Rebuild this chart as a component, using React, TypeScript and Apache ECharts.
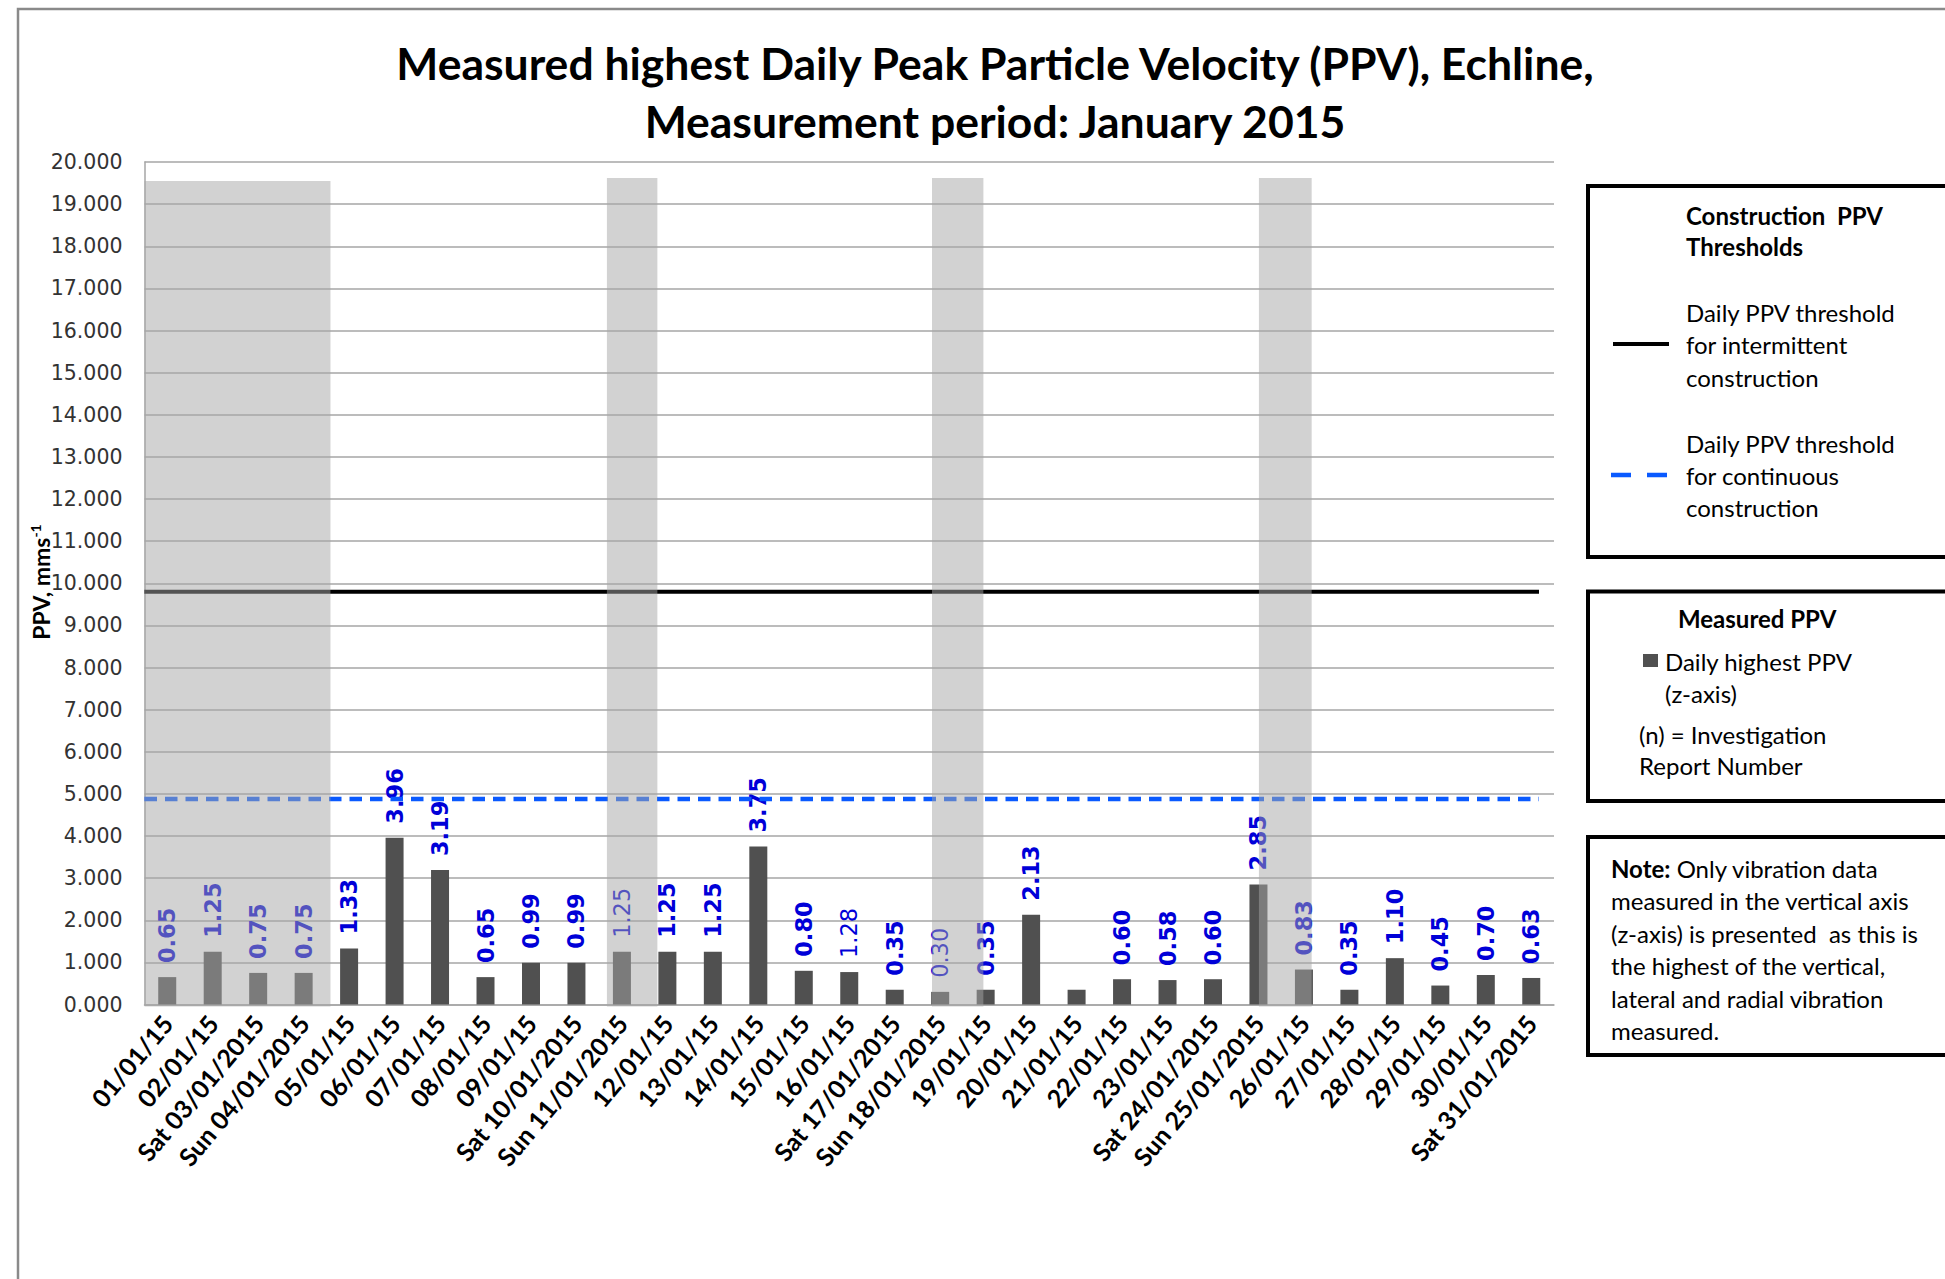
import React, { useEffect, useRef } from "react";
import * as echarts from "echarts";

// ---------- data ----------
const categories = [
  "01/01/15", "02/01/15", "Sat 03/01/2015", "Sun 04/01/2015", "05/01/15", "06/01/15", "07/01/15",
  "08/01/15", "09/01/15", "Sat 10/01/2015", "Sun 11/01/2015", "12/01/15", "13/01/15", "14/01/15",
  "15/01/15", "16/01/15", "Sat 17/01/2015", "Sun 18/01/2015", "19/01/15", "20/01/15", "21/01/15",
  "22/01/15", "23/01/15", "Sat 24/01/2015", "Sun 25/01/2015", "26/01/15", "27/01/15", "28/01/15",
  "29/01/15", "30/01/15", "Sat 31/01/2015",
];
const dailyPPV = [
  0.65, 1.25, 0.75, 0.75, 1.33, 3.96, 3.19, 0.65, 0.99, 0.99, 1.25, 1.25, 1.25, 3.75, 0.80, 0.77,
  0.35, 0.30, 0.35, 2.13, 0.35, 0.60, 0.58, 0.60, 2.85, 0.83, 0.35, 1.10, 0.45, 0.70, 0.63,
];
const barLabels = [
  "0.65", "1.25", "0.75", "0.75", "1.33", "3.96", "3.19", "0.65", "0.99", "0.99", "1.25", "1.25",
  "1.25", "3.75", "0.80", "1.28", "0.35", "0.30", "0.35", "2.13", "", "0.60", "0.58", "0.60",
  "2.85", "0.83", "0.35", "1.10", "0.45", "0.70", "0.63",
];
const plainLabelIdx = [10, 15, 17];
const yTicks = { min: 0, max: 20, step: 1 };
const thresholdIntermittent = 9.8;
const thresholdContinuous = 4.88;
const thresholdExtent = [0, 30.67]; // in day units along the plot
// weekend / holiday shading bands: [start day, end day, top value]
const weekendBands = [
  [0, 4.09, 19.55],
  [10.17, 11.28, 19.62],
  [17.32, 18.45, 19.62],
  [24.51, 25.67, 19.62],
];

const TITLE_1 = "Measured highest Daily Peak Particle Velocity (PPV), Echline,";
const TITLE_2 = "Measurement period: January 2015";

export default function App() {
  const ref = useRef<HTMLDivElement>(null);
  useEffect(() => {
    if (!ref.current) return;
    const chart = echarts.init(ref.current, undefined, { renderer: "svg" });
    const legendFont = "Lato";
    const lfs = 24;
    const txt = (x: number, y: number, text: string, bold = false, size = lfs) => ({
      type: "text",
      x,
      y,
      style: {
        text,
        fontFamily: legendFont,
        fontSize: size,
        fontWeight: bold ? "bold" : "normal",
        fill: "#000",
        verticalAlign: "middle",
      },
      z: 50,
    });

    const option: any = {
      animation: false,
      backgroundColor: "#fff",
      grid: { left: 144.5, top: 162, right: 391, bottom: 274.5, containLabel: false },
      xAxis: [
        {
          type: "category",
          data: categories,
          axisLine: { show: true, lineStyle: { color: "#a6a6a6", width: 1.5 } },
          axisTick: { show: false },
          axisLabel: {
            interval: 0,
            rotate: 50,
            margin: 14,
            fontFamily: "Lato",
            fontWeight: "bold",
            fontSize: 25,
            color: "#000",
          },
        },
        { type: "value", min: 0, max: 31, show: false },
      ],
      yAxis: {
        type: "value",
        min: yTicks.min,
        max: yTicks.max,
        interval: yTicks.step,
        axisLine: { show: true, lineStyle: { color: "#a6a6a6", width: 1.5 } },
        axisTick: { show: false },
        splitLine: { show: true, lineStyle: { color: "#a6a6a6", width: 1.5 } },
        axisLabel: {
          formatter: (v: number) => v.toFixed(3),
          fontFamily: "DejaVu Sans",
          fontSize: 20.5,
          color: "#333",
          margin: 22,
        },
      },
      series: [
        {
          type: "bar",
          xAxisIndex: 0,
          barWidth: 18,
          itemStyle: { color: "#505050" },
          data: dailyPPV.map((v, i) => ({
            value: v,
            label: {
              show: barLabels[i] !== "",
              formatter: barLabels[i],
              fontWeight: plainLabelIdx.includes(i) ? "normal" : "bold",
            },
          })),
          label: {
            show: true,
            position: "top",
            rotate: 90,
            align: "left",
            verticalAlign: "middle",
            distance: 14,
            fontFamily: "DejaVu Sans",
            fontSize: 22.5,
            color: "#0000d8",
          },
          z: 2,
        },
        {
          type: "line",
          xAxisIndex: 1,
          symbol: "none",
          data: [
            [thresholdExtent[0], thresholdIntermittent],
            [thresholdExtent[1], thresholdIntermittent],
          ],
          lineStyle: { color: "#000", width: 4 },
          z: 3,
        },
        {
          type: "line",
          xAxisIndex: 1,
          symbol: "none",
          data: [
            [thresholdExtent[0], thresholdContinuous],
            [thresholdExtent[1], thresholdContinuous],
          ],
          lineStyle: { color: "#0a5aff", width: 4.5, type: [12.5, 8] },
          z: 3,
        },
        {
          type: "custom",
          xAxisIndex: 1,
          data: weekendBands,
          renderItem: (params: any, api: any) => {
            const p1 = api.coord([api.value(0), api.value(2)]);
            const p2 = api.coord([api.value(1), 0]);
            return {
              type: "rect",
              shape: { x: p1[0], y: p1[1], width: p2[0] - p1[0], height: p2[1] - p1[1] + 2 },
              style: { fill: "rgba(165,165,165,0.5)" },
            };
          },
          z: 10,
        },
      ],
      graphic: [
        {
          type: "rect",
          shape: { x: 18, y: 9, width: 4000, height: 4000 },
          style: { fill: "none", stroke: "#8a8a8a", lineWidth: 2.5 },
          z: 0,
        },
        {
          type: "text",
          x: 995,
          y: 62,
          style: {
            text: TITLE_1,
            fontFamily: "Lato",
            fontWeight: "bold",
            fontSize: 44.5,
            fill: "#000",
            align: "center",
            verticalAlign: "middle",
          },
        },
        {
          type: "text",
          x: 995,
          y: 120,
          style: {
            text: TITLE_2,
            fontFamily: "Lato",
            fontWeight: "bold",
            fontSize: 44.5,
            fill: "#000",
            align: "center",
            verticalAlign: "middle",
          },
        },
        {
          type: "text",
          x: 41,
          y: 582,
          rotation: Math.PI / 2,
          style: {
            text: "{a|PPV, mms}{s|-1}",
            align: "center",
            verticalAlign: "middle",
            rich: {
              a: { fontFamily: "Lato", fontWeight: "bold", fontSize: 23, fill: "#000", lineHeight: 26 },
              s: { fontFamily: "Lato", fontWeight: "bold", fontSize: 14, fill: "#000", verticalAlign: "top", lineHeight: 26, padding: [0, 0, 9, 0] },
            },
          },
        },
        // legend box 1
        {
          type: "rect",
          shape: { x: 1588, y: 186, width: 500, height: 371 },
          style: { fill: "#fff", stroke: "#000", lineWidth: 4 },
          z: 40,
        },
        txt(1686, 215, "Construction  PPV", true),
        txt(1686, 246, "Thresholds", true),
        txt(1686, 312, "Daily PPV threshold"),
        txt(1686, 344, "for intermittent"),
        txt(1686, 377, "construction"),
        {
          type: "line",
          shape: { x1: 1613, y1: 344, x2: 1669, y2: 344 },
          style: { stroke: "#000", lineWidth: 4 },
          z: 50,
        },
        txt(1686, 443, "Daily PPV threshold"),
        txt(1686, 475, "for continuous"),
        txt(1686, 507, "construction"),
        {
          type: "line",
          shape: { x1: 1611, y1: 475, x2: 1667, y2: 475 },
          style: { stroke: "#0a5aff", lineWidth: 4.5, lineDash: [20, 16] },
          z: 50,
        },
        // legend box 2
        {
          type: "rect",
          shape: { x: 1588, y: 591.5, width: 500, height: 209.5 },
          style: { fill: "#fff", stroke: "#000", lineWidth: 4 },
          z: 40,
        },
        txt(1678, 618, "Measured PPV", true),
        {
          type: "rect",
          shape: { x: 1643, y: 654, width: 15, height: 13 },
          style: { fill: "#505050" },
          z: 50,
        },
        txt(1665, 661, "Daily highest PPV"),
        txt(1665, 693, "(z-axis)"),
        txt(1639, 734, "(n) = Investigation"),
        txt(1639, 765, "Report Number"),
        // note box
        {
          type: "rect",
          shape: { x: 1588, y: 837, width: 500, height: 218 },
          style: { fill: "#fff", stroke: "#000", lineWidth: 4 },
          z: 40,
        },
        {
          type: "text",
          x: 1611,
          y: 868,
          style: {
            text: "{b|Note:}{r| Only vibration data}",
            verticalAlign: "middle",
            rich: {
              b: { fontFamily: legendFont, fontWeight: "bold", fontSize: lfs, fill: "#000" },
              r: { fontFamily: legendFont, fontSize: lfs, fill: "#000" },
            },
          },
          z: 50,
        },
        txt(1611, 900.7, "measured in the vertical axis"),
        txt(1611, 933, "(z-axis) is presented  as this is"),
        txt(1611, 965.7, "the highest of the vertical,"),
        txt(1611, 998, "lateral and radial vibration"),
        txt(1611, 1030.7, "measured."),
      ],
    };
    chart.setOption(option);
    return () => chart.dispose();
  }, []);
  return (
    <div
      ref={ref}
      style={{ position: "fixed", left: 0, top: 0, width: 1945, height: 1279, background: "#fff" }}
    />
  );
}
